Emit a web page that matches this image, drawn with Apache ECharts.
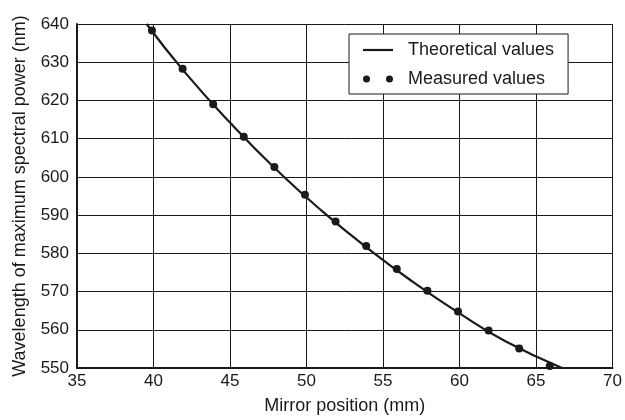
<!DOCTYPE html>
<html>
<head>
<meta charset="utf-8">
<script src="https://cdn.jsdelivr.net/npm/echarts@6/dist/echarts.min.js"></script>
<style>
  html, body {margin: 0; padding: 0; background: #fff;}
  #chart {width: 625px; height: 420px;}
</style>
</head>
<body>
<div id="chart"></div>
<script>
  // measured points
  const measuredX = [39.9, 41.9, 43.9, 45.9, 47.9, 49.9, 51.9, 53.9, 55.9, 57.9, 59.9, 61.9, 63.9, 65.9];
  const measuredY = [638.3, 628.3, 619.0, 610.5, 602.6, 595.3, 588.3, 581.9, 575.9, 570.2, 564.8, 559.8, 555.1, 550.5];
  // theoretical curve
  const theoryX = [39.55, 42, 45, 48, 51, 54, 57, 60, 63, 66.7];
  const theoryY = [640, 627.6, 614.2, 602.0, 591.1, 581.3, 572.4, 564.3, 557.0, 550];

  const xTicks = {min: 35, max: 70, interval: 5};
  const yTicks = {min: 550, max: 640, interval: 10};

  const ink = '#1a1a1a';
  const font = 'Liberation Sans, Arial, sans-serif';

  const chart = echarts.init(document.getElementById('chart'));
  chart.setOption({
    animation: false,
    backgroundColor: '#fff',
    textStyle: {fontFamily: font, color: ink},
    grid: {left: 77, right: 11, top: 24, bottom: 47},
    legend: {
      orient: 'vertical',
      left: 349,
      top: 34,
      padding: [7, 14, 6, 14],
      itemGap: 11,
      itemWidth: 30,
      itemHeight: 7,
      backgroundColor: '#fff',
      borderColor: ink,
      borderWidth: 1,
      textStyle: {fontFamily: font, fontSize: 18, color: ink, padding: [0, 0, 0, 10]},
      data: [
        {name: 'Theoretical values', icon: 'path://M0,0M0,2.4L30,2.4L30,4.6L0,4.6ZM30,7'},
        {name: 'Measured values', icon: 'path://M0,3.5a3.5,3.5 0 1,0 7,0a3.5,3.5 0 1,0 -7,0ZM23,3.5a3.5,3.5 0 1,0 7,0a3.5,3.5 0 1,0 -7,0Z'}
      ]
    },
    xAxis: {
      type: 'value',
      min: xTicks.min, max: xTicks.max, interval: xTicks.interval,
      name: 'Mirror position (mm)',
      nameLocation: 'middle',
      nameGap: 29,
      nameTextStyle: {fontSize: 18, color: ink, fontFamily: font},
      axisLine: {show: true, onZero: false, lineStyle: {color: ink, width: 2}},
      axisTick: {show: false},
      axisLabel: {fontSize: 17, color: ink, margin: 5},
      splitLine: {show: true, lineStyle: {color: ink, width: 1}}
    },
    yAxis: {
      type: 'value',
      min: yTicks.min, max: yTicks.max, interval: yTicks.interval,
      name: 'Wavelength of maximum spectral power (nm)',
      nameLocation: 'middle',
      nameGap: 48,
      nameTextStyle: {fontSize: 18, color: ink, fontFamily: font},
      axisLine: {show: true, onZero: false, lineStyle: {color: ink, width: 2}},
      axisTick: {show: false},
      axisLabel: {fontSize: 17, color: ink, margin: 8},
      splitLine: {show: true, lineStyle: {color: ink, width: 1}}
    },
    series: [
      {
        name: 'Theoretical values',
        type: 'line',
        smooth: true,
        showSymbol: false,
        data: theoryX.map((x, i) => [x, theoryY[i]]),
        lineStyle: {color: ink, width: 2.2},
        itemStyle: {color: ink},
        z: 3
      },
      {
        name: 'Measured values',
        type: 'scatter',
        symbolSize: 8,
        data: measuredX.map((x, i) => [x, measuredY[i]]),
        itemStyle: {color: ink, opacity: 1},
        z: 4
      }
    ]
  });
</script>
</body>
</html>
